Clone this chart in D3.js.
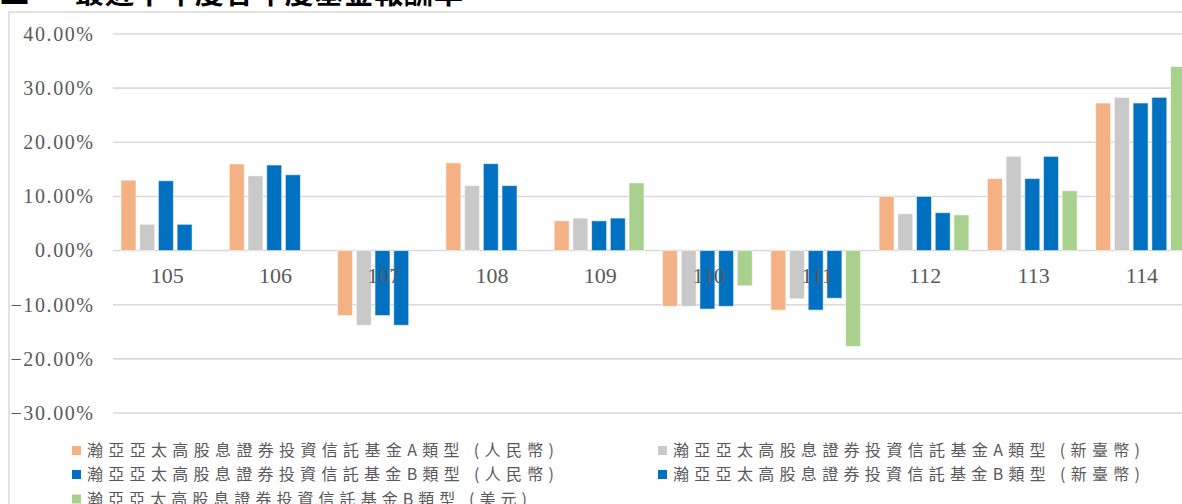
<!DOCTYPE html>
<html>
<head>
<meta charset="utf-8">
<script src="https://cdn.jsdelivr.net/npm/d3@7"></script>
<style>
  html, body { margin: 0; padding: 0; background: #fff; overflow: hidden; }
  svg { display: block; }
</style>
</head>
<body>
<svg id="chart" width="1182" height="504"></svg>
<script>
// ---- Data ----
const years = ["105", "106", "107", "108", "109", "110", "111", "112", "113", "114"];
const seriesNames = [
  "瀚亞亞太高股息證券投資信託基金A類型 (人民幣)",
  "瀚亞亞太高股息證券投資信託基金A類型 (新臺幣)",
  "瀚亞亞太高股息證券投資信託基金B類型 (人民幣)",
  "瀚亞亞太高股息證券投資信託基金B類型 (新臺幣)",
  "瀚亞亞太高股息證券投資信託基金B類型 (美元)"
];
const aRmb = [13.0, 16.0, -12.0, 16.2, 5.5, -10.3, -11.0, 10.0, 13.3, 27.25];
const aTwd = [4.85, 13.8, -13.8, 12.0, 6.0, -10.3, -8.9, 6.8, 17.4, 28.3];
const bRmb = [12.9, 15.8, -12.0, 16.05, 5.5, -10.8, -11.0, 10.0, 13.3, 27.25];
const bTwd = [4.85, 14.0, -13.8, 12.0, 6.0, -10.3, -8.8, 7.0, 17.4, 28.3];
const bUsd = [null, null, null, null, 12.5, -6.5, -17.7, 6.6, 11.05, 34.0];
const yTicks = [-30, -20, -10, 0, 10, 20, 30, 40];
const titlePrefix = "二、";
const titleText = "最近十年度各年度基金報酬率";

const seriesValues = [aRmb, aTwd, bRmb, bTwd, bUsd];
const colors = ["#F4B183", "#C9C9C9", "#0070C0", "#0070C0", "#A9D18E"];

// ---- Layout ----
const svg = d3.select("#chart");
const plotLeft = 113, plotRight = 1196;
const y = d3.scaleLinear().domain([-30, 40]).range([413, 34]);
const x0 = d3.scaleBand().domain(years).range([plotLeft, plotRight]);
const x1 = d3.scaleBand().domain(d3.range(seriesNames.length)).range([8, 97.8]).paddingInner(0.2);

// Title (cropped at top, as in the source image)
const titleStyle = sel => sel
  .style("font-family", "'Noto Sans CJK TC', 'Noto Sans CJK SC', sans-serif")
  .style("font-weight", "bold")
  .style("font-size", "29px")
  .attr("fill", "#000");
svg.append("text").attr("x", 0).attr("y", 4)
  .attr("textLength", 60).attr("lengthAdjust", "spacing")
  .call(titleStyle).text(titlePrefix);
svg.append("text").attr("x", 75).attr("y", 4)
  .attr("textLength", 388).attr("lengthAdjust", "spacing")
  .call(titleStyle).text(titleText);

// Frame
svg.append("path")
  .attr("d", "M9,504 L9,12 L1182,12")
  .attr("fill", "none").attr("stroke", "#D9D9D9").attr("stroke-width", 1.5);

// Gridlines
svg.append("g").selectAll("line").data(yTicks).join("line")
  .attr("x1", plotLeft).attr("x2", 1182)
  .attr("y1", d => y(d)).attr("y2", d => y(d))
  .attr("stroke", "#D9D9D9").attr("stroke-width", 1.6);

// Y axis labels
const yAxis = d3.axisLeft(y).tickValues(yTicks).tickSize(0).tickPadding(0)
  .tickFormat(d => d3.format(".2f")(d) + "%");
const gy = svg.append("g").attr("transform", "translate(93,0)").call(yAxis);
gy.select(".domain").remove();
gy.selectAll("text")
  .style("font-family", "'Liberation Serif', 'Times New Roman', serif")
  .style("font-size", "20px")
  .style("letter-spacing", "1.6px")
  .attr("fill", "#595959")
  .attr("dx", "1.6px");

// Bars
const groups = svg.append("g").selectAll("g").data(years).join("g")
  .attr("transform", d => `translate(${x0(d)},0)`);
groups.selectAll("rect")
  .data((d, i) => seriesValues.map((arr, s) => ({ s, v: arr[i] })).filter(e => e.v !== null))
  .join("rect")
  .attr("x", d => x1(d.s))
  .attr("width", x1.bandwidth())
  .attr("y", d => y(Math.max(0, d.v)))
  .attr("height", d => Math.abs(y(d.v) - y(0)))
  .attr("fill", d => colors[d.s])
  .attr("stroke", "#ffffff").attr("stroke-opacity", 0.55).attr("stroke-width", 1);

// Category labels
const xAxis = d3.axisBottom(x0).tickSize(0).tickPadding(0);
const gx = svg.append("g").attr("transform", "translate(0,267)").call(xAxis);
gx.select(".domain").remove();
gx.selectAll("text")
  .style("font-family", "'Liberation Serif', 'Times New Roman', serif")
  .style("font-size", "22px")
  .attr("fill", "#595959")
  .attr("dy", "0.72em");

// Legend
const legendPos = [
  { x: 72, y: 450.5 },
  { x: 658, y: 450.5 },
  { x: 72, y: 474.5 },
  { x: 658, y: 474.5 },
  { x: 72, y: 499 }
];
const lg = svg.append("g").selectAll("g").data(seriesNames).join("g")
  .attr("transform", (d, i) => `translate(${legendPos[i].x},${legendPos[i].y})`);
lg.append("rect")
  .attr("x", 0).attr("y", -4.5).attr("width", 9).attr("height", 9)
  .attr("fill", (d, i) => colors[i]);
lg.append("text")
  .attr("x", 15).attr("y", 0).attr("dy", "0.36em")
  .attr("textLength", (d, i) => (i === 4 ? 440 : 467))
  .attr("lengthAdjust", "spacing")
  .style("font-family", "'Noto Sans CJK TC', 'Noto Sans CJK SC', sans-serif")
  .style("font-size", "16px")
  .attr("fill", "#595959")
  .text(d => d);
</script>
</body>
</html>
